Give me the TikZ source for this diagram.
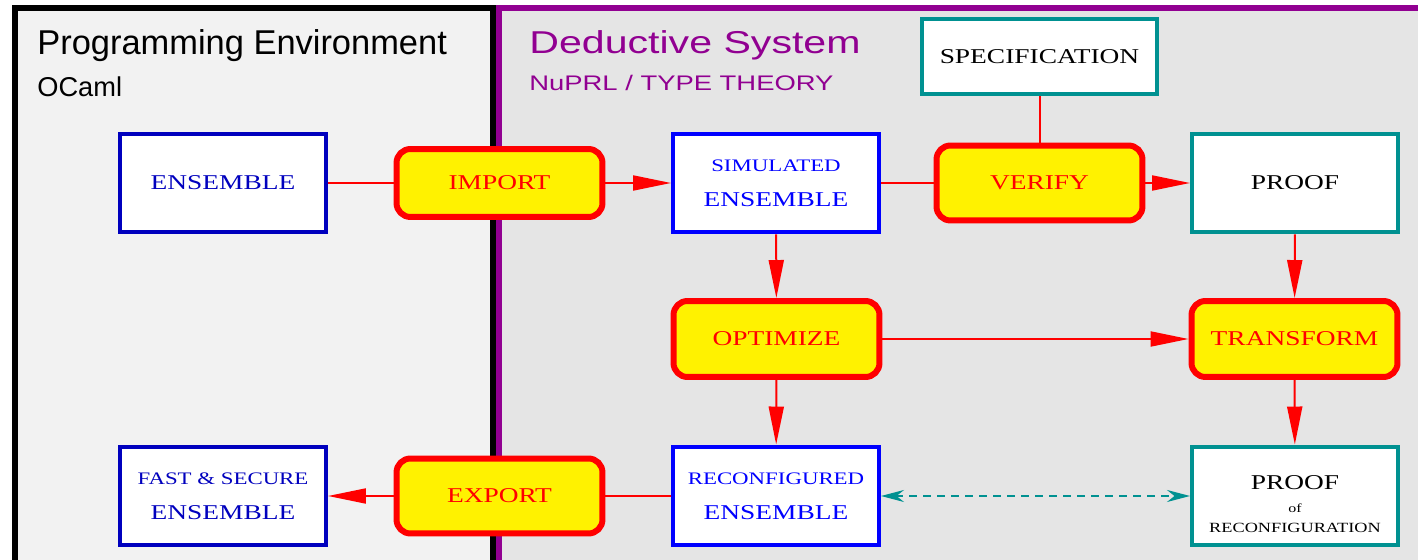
\documentclass[tikz,border=0pt]{standalone}
\usepackage{fontspec}
\setmainfont{Liberation Serif}[FakeStretch=1.3]
\newfontfamily\leftsans{Liberation Sans}
\newfontfamily\rightsans{Liberation Sans}[FakeStretch=1.3]
\usepackage{tikz}
\usetikzlibrary{positioning,arrows.meta}
\definecolor{deepblue}{RGB}{0,0,190}
\definecolor{dsteal}{RGB}{0,145,145}
\definecolor{dspurple}{RGB}{145,0,145}
\definecolor{envgrey}{RGB}{242,242,242}
\definecolor{dsgrey}{RGB}{229,229,229}
\tikzset{unitbox/.style={draw, fill=white, line width=0.08cm, minimum width=4.12cm, minimum height=1.98cm, inner sep=0pt, align=center, font=\fontsize{12}{20}\selectfont}}
\tikzset{action/.style={draw=red, fill=yellow, text=red, line width=0.12cm, rounded corners=0.28cm, minimum width=4.12cm, minimum height=1.46cm, inner sep=0pt, font=\fontsize{12}{14}\selectfont}}
\tikzset{flow/.style={line width=0.04cm, color=red, -{Triangle[length=0.76cm,width=0.3cm]}}}
\tikzset{link/.style={line width=0.04cm, color=red}}
\tikzset{corresp/.style={line width=0.04cm, color=dsteal, dash pattern=on 0.16cm off 0.12cm, {Stealth[length=0.46cm,width=0.24cm]}-{Stealth[length=0.46cm,width=0.24cm]}}}
\tikzset{paneltitle/.style={anchor=base west, inner sep=0pt}}

\begin{document}
\begin{tikzpicture}[x=0.02cm, y=-0.02cm]
    \useasboundingbox (0,0) rectangle (1418,560);
    \clip (0,0) rectangle (1418,560);

    % panels
    \draw[line width=0.12cm, fill=envgrey] (15,8) rectangle (493,620);
    \draw[line width=0.12cm, draw=dspurple, fill=dsgrey] (499,8) rectangle (1460,620);

    \node[paneltitle, font=\leftsans\fontsize{19.6}{19.6}\selectfont] (envtitle) at (37,55) {Programming Environment};
    \node[paneltitle, font=\leftsans\fontsize{15.5}{15.5}\selectfont] (envsub) at (37,97) {OCaml};
    \node[paneltitle, text=dspurple, font=\rightsans\fontsize{18}{18}\selectfont] (dstitle) at (529,54) {Deductive System};
    \node[paneltitle, text=dspurple, font=\rightsans\fontsize{12}{12}\selectfont] (dssub) at (529,91) {NuPRL / TYPE THEORY};

    % boxes
    \node[unitbox, draw=deepblue, text=deepblue] (ens) at (223,183) {ENSEMBLE};
    \node[action, minimum height=1.36cm] (import) at (499.5,183) {IMPORT};
    \node[unitbox, draw=blue, text=blue] (sim) at (776,183) {{\fontsize{10}{20}\selectfont SIMULATED}\\ENSEMBLE};
    \node[action, minimum height=1.5cm] (verify) at (1039.5,183) {VERIFY};
    \node[unitbox, draw=dsteal, minimum width=4.7cm, minimum height=1.5cm] (spec) at (1039.5,56.5) {SPECIFICATION};
    \node[unitbox, draw=dsteal] (proof) at (1295,183) {PROOF};
    \node[action, minimum height=1.52cm] (optimize) at (776.5,339) {OPTIMIZE};
    \node[action, minimum height=1.52cm] (transform) at (1294.5,339) {TRANSFORM};
    \node[unitbox, draw=blue, text=blue] (reconf) at (776,496) {{\fontsize{10}{20}\selectfont RECONFIGURED}\\ENSEMBLE};
    \node[unitbox, draw=dsteal, font=\fontsize{12}{12}\selectfont] (proofrec) at (1295,496)
        {\raisebox{-6.3pt}[\height][\depth]{\begin{tabular}{@{}c@{}}PROOF\\[1pt]{\fontsize{7}{11}\selectfont of}\\[-0.6pt]{\fontsize{8}{11}\selectfont RECONFIGURATION}\end{tabular}}};
    \node[action, minimum height=1.5cm] (export) at (499.5,496) {EXPORT};
    \node[unitbox, draw=deepblue, text=deepblue] (fast) at (223,496) {{\fontsize{10}{20}\selectfont FAST \& SECURE}\\ENSEMBLE};

    % connectors
    \draw[link] (ens) -- (import);
    \draw[flow] (import) -- (sim);
    \draw[link] (sim) -- (verify);
    \draw[flow] (verify) -- (proof);
    \draw[link] (spec) -- (verify);
    \draw[flow] (sim) -- (optimize);
    \draw[flow] (optimize) -- (reconf);
    \draw[flow] (optimize) -- (transform);
    \draw[flow] (proof) -- (transform);
    \draw[flow] (transform) -- (proofrec);
    \draw[link] (reconf) -- (export);
    \draw[flow] (export) -- (fast);
    \draw[corresp] (reconf) -- (proofrec);
\end{tikzpicture}
\end{document}
